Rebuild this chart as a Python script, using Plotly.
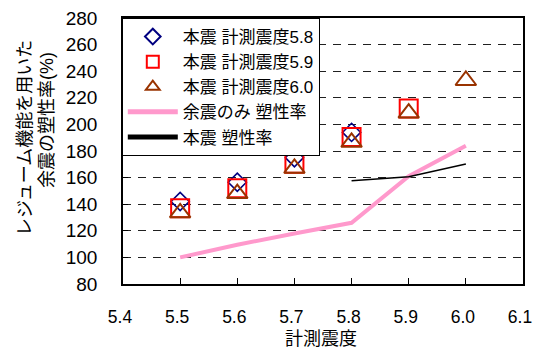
import plotly.graph_objects as go

# Seismic intensity (x) and ductility ratio (%) for each series
x_main58 = [5.5, 5.6, 5.7, 5.8]
y_main58 = [142, 156.5, 175, 194]

x_main59 = [5.5, 5.6, 5.7, 5.8, 5.9]
y_main59 = [137, 152, 170.5, 190.5, 212]

x_main60 = [5.5, 5.6, 5.7, 5.8, 5.9, 6.0]
y_main60 = [133.5, 148, 167, 186.5, 208.5, 233]

x_after = [5.5, 5.6, 5.7, 5.8, 5.9, 6.0]
y_after = [100, 109.5, 118, 126, 161, 184]

x_mainonly = [5.8, 5.9, 6.0]
y_mainonly = [157.7, 160.7, 170.3]

x_ticks = [5.4, 5.5, 5.6, 5.7, 5.8, 5.9, 6.0, 6.1]
y_ticks = [80, 100, 120, 140, 160, 180, 200, 220, 240, 260, 280]

FONT = "Liberation Sans, Arial, Noto Sans CJK JP, sans-serif"

fig = go.Figure()
fig.add_trace(go.Scatter(
    x=x_main58, y=y_main58, mode="markers", name="本震 計測震度5.8",
    marker=dict(symbol="diamond-open", size=14, color="#000080",
                line=dict(width=1.6, color="#000080"))))
fig.add_trace(go.Scatter(
    x=x_main59, y=y_main59, mode="markers", name="本震 計測震度5.9",
    marker=dict(symbol="square-open", size=18, color="#FF0000",
                line=dict(width=2, color="#FF0000"))))
fig.add_trace(go.Scatter(
    x=x_main60, y=y_main60, mode="markers", name="本震 計測震度6.0",
    marker=dict(symbol="triangle-up-open", size=18, color="#993300",
                line=dict(width=2, color="#993300"))))
fig.add_trace(go.Scatter(
    x=x_after, y=y_after, mode="lines", name="余震のみ 塑性率",
    line=dict(color="#FF99CC", width=4)))
fig.add_trace(go.Scatter(
    x=x_mainonly, y=y_mainonly, mode="lines", name="本震 塑性率",
    line=dict(color="#000000", width=1.5)))

fig.update_layout(
    width=534, height=349,
    margin=dict(l=123, r=11, t=18, b=65, autoexpand=False),
    paper_bgcolor="white", plot_bgcolor="white",
    font=dict(family=FONT, color="black"),
    showlegend=True,
    legend=dict(
        x=-0.003, y=1.0, xanchor="left", yanchor="top",
        bgcolor="white", bordercolor="black", borderwidth=1,
        font=dict(size=17, family=FONT),
        tracegroupgap=0, itemwidth=50, itemsizing="constant",
    ),
    xaxis=dict(
        range=[5.4, 6.1], tickvals=x_ticks,
        ticktext=[f"{v:.1f}" for v in x_ticks],
        showgrid=False, zeroline=False, automargin=False,
        showline=True, linecolor="black", linewidth=1.5, mirror=True,
        ticks="inside", ticklen=6, tickcolor="black",
        tickfont=dict(size=17.5, family=FONT),
        ticklabelstandoff=16, ticklabelshift=-3, ticklabeloverflow="allow",
    ),
    yaxis=dict(
        range=[80, 280], tickvals=y_ticks, automargin=False,
        showgrid=True, gridcolor="#202020", gridwidth=1, griddash="8px,7px",
        zeroline=False,
        showline=True, linecolor="black", linewidth=1.5, mirror=True,
        ticks="inside", ticklen=5, tickcolor="black",
        tickfont=dict(size=19, family=FONT),
        ticklabelstandoff=20,
    ),
)

# Axis titles
fig.add_annotation(
    text="計測震度", xref="paper", yref="paper", x=0.495, y=-0.207,
    xanchor="center", yanchor="middle", showarrow=False,
    font=dict(size=18, family=FONT))
fig.add_annotation(
    text="レジューム機能を用いた", xref="paper", yref="paper",
    x=-0.245, y=0.549, xanchor="center", yanchor="middle",
    textangle=-90, showarrow=False, font=dict(size=18, family=FONT))
fig.add_annotation(
    text="余震の塑性率(%)", xref="paper", yref="paper",
    x=-0.19, y=0.617, xanchor="center", yanchor="middle",
    textangle=-90, showarrow=False, font=dict(size=18, family=FONT))

fig.write_html("out.html")
